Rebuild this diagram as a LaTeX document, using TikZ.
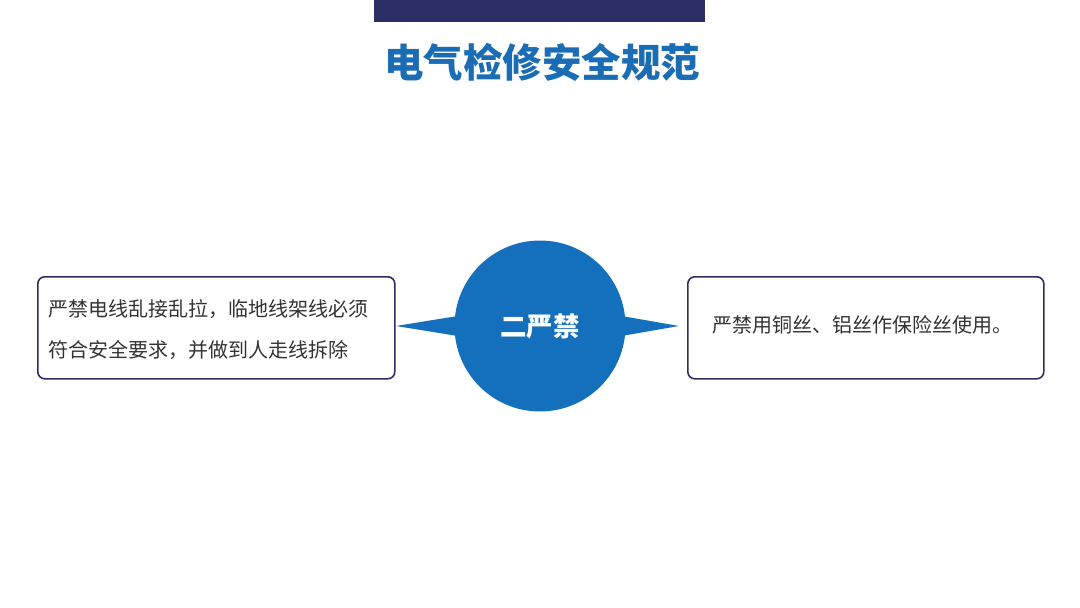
\documentclass[tikz,border=0pt]{standalone}
\usepackage{fontspec}
\newfontfamily\cjk{Noto Sans CJK SC}
\definecolor{navy}{HTML}{2B2F66}
\definecolor{tblue}{HTML}{1A6DB5}
\definecolor{cblue}{HTML}{1470BC}
\definecolor{txt}{HTML}{333333}
\begin{document}
\begin{tikzpicture}[x=1pt,y=-1pt,
  infobox/.style={draw=navy,line width=1.6pt,rounded corners=7pt,fill=white},
  bodytext/.style={text=txt,font=\cjk\fontsize{20}{41}\selectfont,align=left,anchor=west}]
\useasboundingbox (0,0) rectangle (1080,608);
\fill[white] (0,0) rectangle (1080,608);
\fill[navy] (374,0) rectangle (705,22);
\node[text=tblue,font=\cjk\bfseries\fontsize{39.5}{44}\selectfont] (title) at (542,62) {电气检修安全规范};
% spikes and circle
\coordinate (ltip) at (396,326);
\coordinate (rtip) at (679,326);
\fill[cblue] (ltip) -- (470,314) -- (470,338) -- cycle;
\fill[cblue] (rtip) -- (610,314) -- (610,338) -- cycle;
\node[circle,fill=cblue,minimum size=171pt,inner sep=0pt,text=white,font=\cjk\bfseries\fontsize{26.5}{30}\selectfont] (hub) at (540,326) {二严禁};
\node[infobox,minimum width=357pt,minimum height=102pt,anchor=north west] (lbox) at (37,276) {};
\node[bodytext,text width=345pt] (ltext) at (45,330) {严禁电线乱接乱拉，临地线架线必须\\符合安全要求，并做到人走线拆除};
\node[infobox,minimum width=356pt,minimum height=102pt,anchor=north west] (rbox) at (687,276) {};
\node[bodytext] (rtext) at (709,325) {严禁用铜丝、铝丝作保险丝使用。};
\end{tikzpicture}
\end{document}
